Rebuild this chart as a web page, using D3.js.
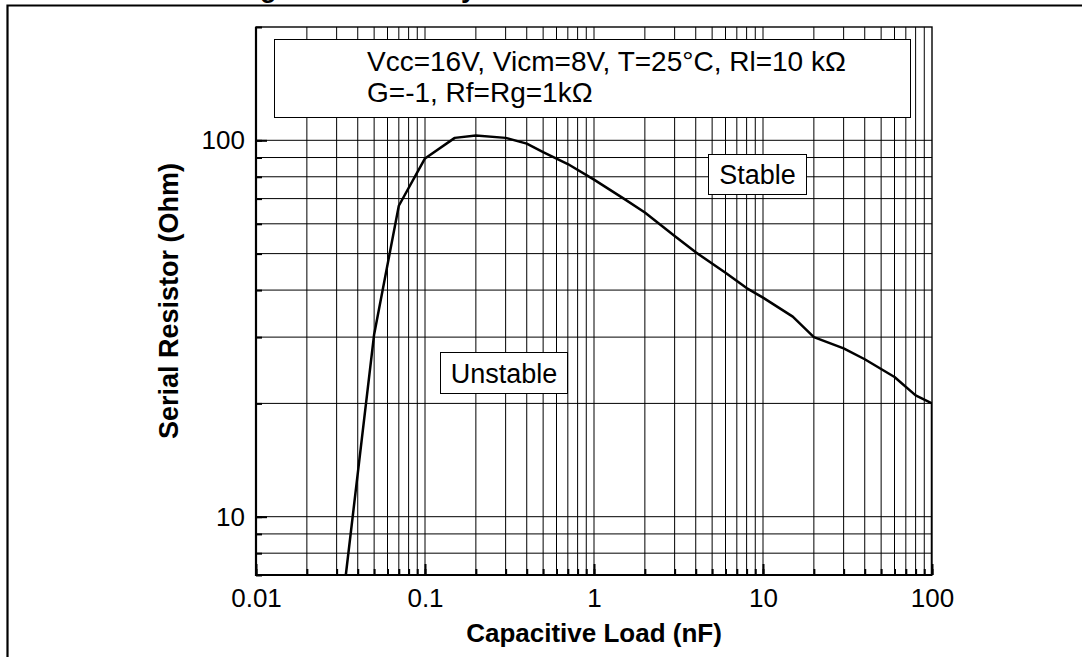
<!DOCTYPE html>
<html>
  <head>
    <title>Serial resistor stability</title>
    <script src="https://cdn.jsdelivr.net/npm/d3@7"></script>
    <style>
      body { margin: 0; background: #fff; }
      svg text { font-family: "Liberation Sans", Arial, sans-serif; fill: #000; }
    </style>
  </head>
  <body>
    <svg id="chart"></svg>
    <script>
// values
let capLoad = [0.034, 0.05, 0.07, 0.1, 0.15, 0.2, 0.3, 0.4, 0.5, 0.7, 1, 1.5, 2, 3, 4, 6, 8, 10, 15, 20, 30, 40, 60, 80, 100, 100];
let serialRes = [7, 30.5, 67, 89.5, 101.5, 103, 101.5, 98, 93, 86.5, 78.6, 70, 64.3, 55.7, 50.4, 44.5, 40.5, 38.2, 34, 30, 28, 26.2, 23.5, 21, 20, 7];

let xMajor = [0.01, 0.1, 1, 10, 100];
let xMajorLabels = ['0.01', '0.1', '1', '10', '100'];
let yMajor = [10, 100];
let yMajorLabels = ['10', '100'];

let conditionLines = ['Vcc=16V, Vicm=8V, T=25\u00b0C, Rl=10 k\u03a9', 'G=-1, Rf=Rg=1k\u03a9'];

let width = 1082, height = 657;
let plotLeft = 256, plotRight = 932, plotTop = 27, plotBottom = 575;

let svg = d3.select('#chart')
  .attr('width', width)
  .attr('height', height);

// outer frame of the page figure, only top and left edges show
svg.append('path')
  .attr('d', 'M7.5,' + height + 'V5.5H' + width)
  .attr('fill', 'none')
  .attr('stroke', '#000')
  .attr('stroke-width', 2.2);

// title, mostly cut off above the picture (only descenders show in the reference)
svg.append('text')
  .attr('x', 236)
  .attr('y', -3)
  .attr('font-size', 27)
  .attr('font-weight', 'bold')
  .text('Figure 48. Stability criteria with a serial resistor');

let x = d3.scaleLog().domain([0.01, 100]).range([plotLeft, plotRight]);
let y = d3.scaleLog().domain([7, 200]).range([plotBottom, plotTop]);

// every 1..9 step of each decade
let xMinor = [];
[0.01, 0.1, 1, 10].forEach(d => {
  for (let k = 1; k < 10; k++) xMinor.push(+(d * k).toPrecision(3));
});
xMinor.push(100);
let yMinor = [7, 8, 9];
[10, 100].forEach(d => {
  for (let k = 1; k < 10; k++) {
    let v = d * k;
    if (v <= 200) yMinor.push(v);
  }
});

let grid = svg.append('g').attr('stroke', '#000').attr('stroke-width', 1);
grid.selectAll('.vgrid')
  .data(xMinor.filter(v => v > 0.01 && v < 100))
  .enter()
  .append('line')
  .attr('x1', d => x(d)).attr('x2', d => x(d))
  .attr('y1', plotTop).attr('y2', plotBottom);
grid.selectAll('.hgrid')
  .data(yMinor.filter(v => v > 7 && v < 200))
  .enter()
  .append('line')
  .attr('x1', plotLeft).attr('x2', plotRight)
  .attr('y1', d => y(d)).attr('y2', d => y(d));

// plot border
svg.append('rect')
  .attr('x', plotLeft).attr('y', plotTop)
  .attr('width', plotRight - plotLeft).attr('height', plotBottom - plotTop)
  .attr('fill', 'none')
  .attr('stroke', '#000')
  .attr('stroke-width', 1.4);

// axes: inward ticks, long on decades, short elsewhere
function styleAxis(g) {
  g.select('.domain').remove();
  g.selectAll('line').attr('stroke', '#000').attr('stroke-width', 2);
  g.selectAll('text').attr('font-size', 26).attr('font-family', '"Liberation Sans", Arial, sans-serif');
}
svg.append('g')
  .attr('transform', 'translate(0,' + plotBottom + ')')
  .call(d3.axisBottom(x).tickValues(xMinor).tickSize(-6).tickFormat(''))
  .call(styleAxis);
svg.append('g')
  .attr('transform', 'translate(0,' + plotBottom + ')')
  .call(d3.axisBottom(x).tickValues(xMajor).tickSize(-11).tickPadding(14)
    .tickFormat((d, i) => xMajorLabels[i]))
  .call(styleAxis);
svg.append('g')
  .attr('transform', 'translate(' + plotLeft + ',0)')
  .call(d3.axisLeft(y).tickValues(yMinor).tickSize(-6).tickFormat(''))
  .call(styleAxis);
svg.append('g')
  .attr('transform', 'translate(' + plotLeft + ',0)')
  .call(d3.axisLeft(y).tickValues(yMajor).tickSize(-11).tickPadding(11)
    .tickFormat((d, i) => yMajorLabels[i]))
  .call(styleAxis);

// thick left and bottom axis lines
svg.append('path')
  .attr('d', 'M' + plotLeft + ',' + plotTop + 'V' + plotBottom + 'H' + plotRight)
  .attr('fill', 'none')
  .attr('stroke', '#000')
  .attr('stroke-width', 2.2);

svg.append('clipPath').attr('id', 'plot-clip')
  .append('rect')
  .attr('x', plotLeft).attr('y', plotTop)
  .attr('width', plotRight - plotLeft).attr('height', plotBottom - plotTop);

let line = d3.line()
  .x((d, i) => x(capLoad[i]))
  .y(d => y(d));

svg.append('path')
  .datum(serialRes)
  .attr('clip-path', 'url(#plot-clip)')
  .attr('d', line)
  .attr('fill', 'none')
  .attr('stroke', '#000')
  .attr('stroke-width', 2.5)
  .attr('stroke-linejoin', 'round');

// conditions box
svg.append('rect')
  .attr('x', 274.5).attr('y', 39.5)
  .attr('width', 636).attr('height', 78)
  .attr('fill', '#fff')
  .attr('stroke', '#000')
  .attr('stroke-width', 1);
svg.selectAll('.cond')
  .data(conditionLines)
  .enter()
  .append('text')
  .attr('x', 367)
  .attr('y', (d, i) => 71 + i * 31)
  .attr('font-size', 28)
  .text(d => d);

// region labels
function boxedLabel(label, cx, cy, w, h) {
  svg.append('rect')
    .attr('x', cx - w / 2).attr('y', cy - h / 2)
    .attr('width', w).attr('height', h)
    .attr('fill', '#fff')
    .attr('stroke', '#000')
    .attr('stroke-width', 1);
  svg.append('text')
    .attr('x', cx).attr('y', cy + 9.5)
    .attr('text-anchor', 'middle')
    .attr('font-size', 27)
    .text(label);
}
boxedLabel('Stable', 757.5, 174.5, 98, 40);
boxedLabel('Unstable', 504, 373, 127, 41);

// axis titles
svg.append('text')
  .attr('x', (plotLeft + plotRight) / 2)
  .attr('y', 642)
  .attr('text-anchor', 'middle')
  .attr('font-size', 26)
  .attr('font-weight', 'bold')
  .text('Capacitive Load (nF)');
svg.append('text')
  .attr('transform', 'translate(178,' + (plotTop + plotBottom) / 2 + ') rotate(-90)')
  .attr('text-anchor', 'middle')
  .attr('font-size', 27)
  .attr('font-weight', 'bold')
  .text('Serial Resistor (Ohm)');
    </script>
  </body>
</html>
